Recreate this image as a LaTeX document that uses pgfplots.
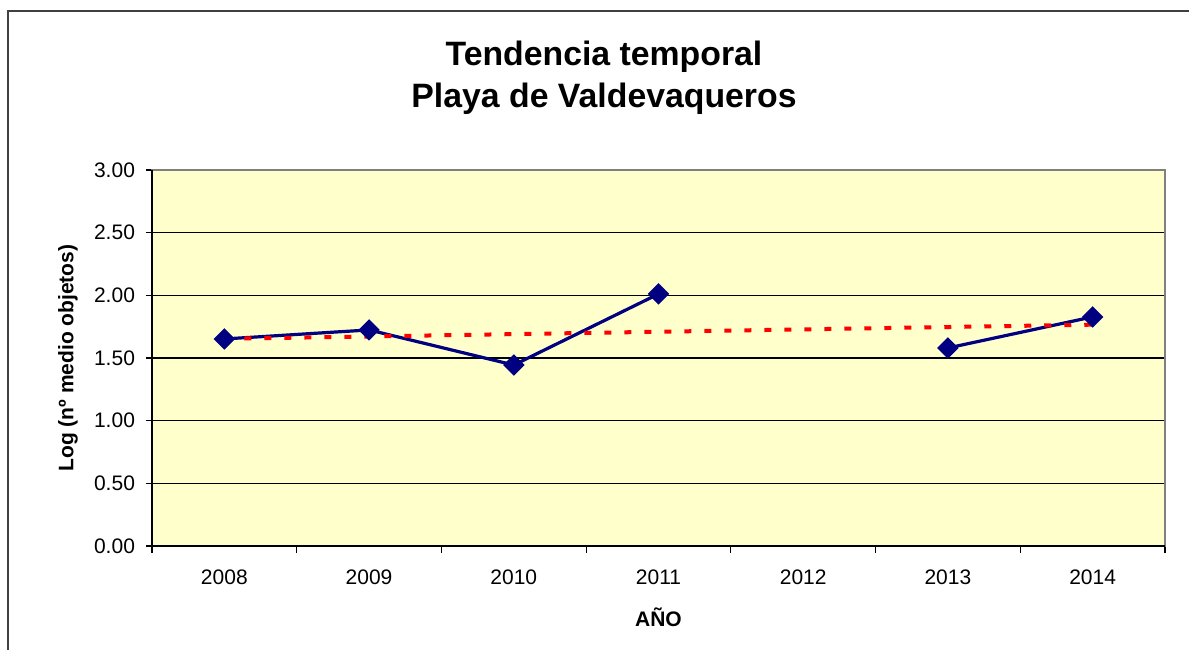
\documentclass[border=0pt]{standalone}
\usepackage{pgfplots}
\pgfplotsset{compat=1.18}
\usepackage{fontspec}
\setmainfont{Liberation Sans}
\definecolor{plotbg}{HTML}{FFFFCC}
\definecolor{serie}{HTML}{000080}
\definecolor{framegray}{HTML}{808080}
\begin{document}
\begin{tikzpicture}
\path[use as bounding box] (0,0) rectangle (594.5pt,325pt);
% chart area frame (left and top edges)
\draw[line width=1pt, black!75] (4pt,0) -- (4pt,319.5pt) -- (594.5pt,319.5pt);
\node[align=center, font=\fontsize{16.9}{21}\selectfont\bfseries] at (302pt,286pt)
  {Tendencia temporal\\Playa de Valdevaqueros};
\begin{axis}[
  at={(76pt,52pt)}, anchor=south west,
  scale only axis, width=506.5pt, height=188pt,
  xmin=2007.5, xmax=2014.5, ymin=0, ymax=3,
  xtick={2008,2009,2010,2011,2012,2013,2014},
  xticklabels={2008,2009,2010,2011,2012,2013,2014},
  minor xtick={2007.5,2008.5,2009.5,2010.5,2011.5,2012.5,2013.5,2014.5},
  ytick={0,0.5,1,1.5,2,2.5,3},
  ymajorgrids,
  major grid style={black, line width=0.6pt},
  axis background/.style={fill=plotbg},
  axis line style={draw=framegray, line width=0.9pt},
  tick align=outside, tick pos=left,
  major x tick style={draw=none},
  every tick/.style={black, line width=0.6pt},
  major tick length=3pt, minor tick length=3.5pt,
  /pgf/number format/assume math mode=true,
  yticklabel style={/pgf/number format/fixed, /pgf/number format/fixed zerofill,
    /pgf/number format/precision=2, xshift=-2pt},
  xticklabel style={yshift=-5.5pt},
  font=\fontsize{10.5}{12.5}\selectfont,
  xlabel={\bfseries AÑO},
  ylabel={\bfseries Log (nº medio objetos)},
  xlabel style={at={(axis description cs:0.5,-0.189)}, anchor=center},
  ylabel style={at={(axis description cs:-0.083,0.5)}, anchor=center},
  unbounded coords=jump,
  clip=false,
]
\addplot[serie, line width=1.6pt, mark=square*, mark size=3pt,
  mark options={rotate=45, solid, fill=serie}]
  coordinates {(2008,1.652) (2009,1.724) (2010,1.444) (2011,2.011)
               (2012,nan) (2013,1.580) (2014,1.828)};
% linear trend
\addplot[red, line width=2pt, dash pattern=on 3.5pt off 6.5pt, mark=none]
  coordinates {(2008,1.653) (2014,1.766)};
\draw[black, line width=0.9pt] (rel axis cs:0,1) -- (rel axis cs:0,0) -- (rel axis cs:1,0);
\end{axis}
\end{tikzpicture}
\end{document}
